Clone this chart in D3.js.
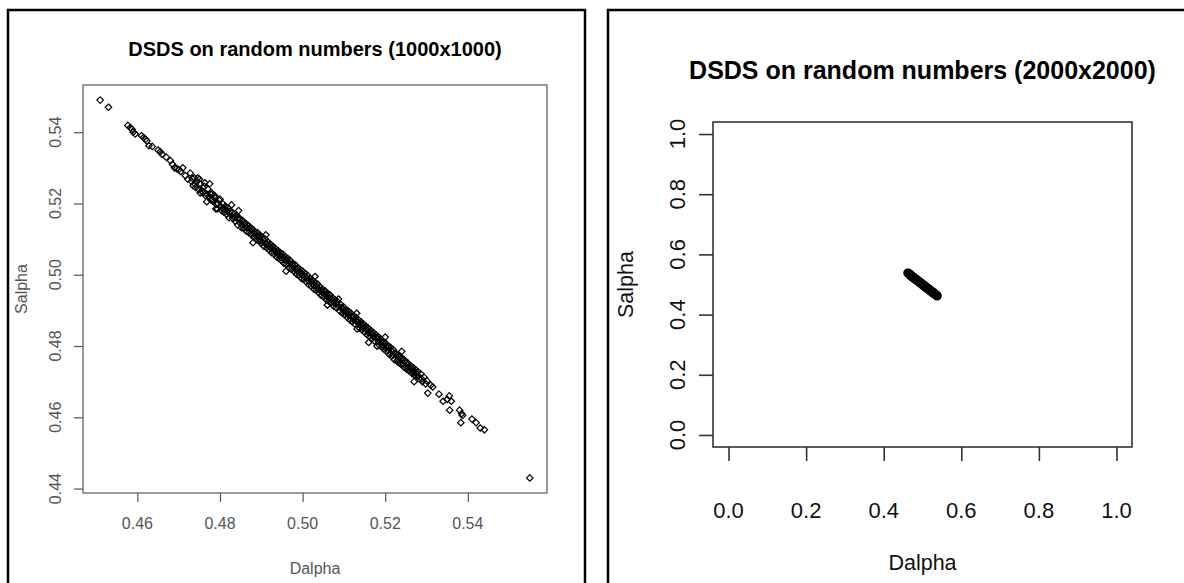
<!DOCTYPE html>
<html>
<head>
<meta charset="utf-8">
<script src="https://cdn.jsdelivr.net/npm/d3@7"></script>
<style>
  body { margin: 0; background: #fff; }
  text { font-family: "Liberation Sans", Arial, sans-serif; }
</style>
</head>
<body>
<svg id="chart"></svg>
<script>
// Left panel: DSDS on 1000x1000 random numbers
const dalpha1000 = [
  0.4510, 0.4530, 0.4577, 0.4583, 0.4587, 0.4590, 0.4595, 0.4610, 0.4615, 0.4620,
  0.4623, 0.4628, 0.4636, 0.4650, 0.4655, 0.4660, 0.4670, 0.4680, 0.4685, 0.4690,
  0.4695, 0.4700, 0.4705, 0.4710, 0.4716,
  0.4722, 0.4728, 0.4731, 0.4735, 0.4738, 0.4741, 0.4744, 0.4748, 0.4750, 0.4753,
  0.4756, 0.4759, 0.4762, 0.4765, 0.4768, 0.4771, 0.4774, 0.4778, 0.4781, 0.4784,
  0.4787, 0.4791, 0.4794, 0.4797, 0.4801, 0.4804, 0.4807, 0.4810, 0.4813, 0.4816,
  0.4819, 0.4822, 0.4825, 0.4828, 0.4831, 0.4834, 0.4837, 0.4840, 0.4843, 0.4846,
  0.4849, 0.4852, 0.4855, 0.4858, 0.4861, 0.4864, 0.4867, 0.4870, 0.4873, 0.4876,
  0.4879, 0.4882, 0.4885, 0.4888, 0.4891, 0.4894, 0.4897, 0.4900, 0.4903, 0.4906,
  0.4909, 0.4911, 0.4913, 0.4916, 0.4919, 0.4922, 0.4925, 0.4928, 0.4931, 0.4934,
  0.4937, 0.4940, 0.4943, 0.4946, 0.4949, 0.4952, 0.4955, 0.4958, 0.4961, 0.4964,
  0.4967, 0.4970, 0.4973, 0.4976, 0.4979, 0.4982, 0.4985, 0.4988, 0.4991, 0.4994,
  0.4997, 0.5000, 0.5003, 0.5006, 0.5009, 0.5012, 0.5015, 0.5018, 0.5021, 0.5024,
  0.5027, 0.5030, 0.5033, 0.5036, 0.5039, 0.5042, 0.5045, 0.5048, 0.5051, 0.5054,
  0.5057, 0.5060, 0.5063, 0.5066, 0.5069, 0.5072, 0.5075, 0.5078, 0.5081, 0.5084,
  0.5087, 0.5090, 0.5093, 0.5096, 0.5099, 0.5102, 0.5105, 0.5108, 0.5111, 0.5114,
  0.5117, 0.5120, 0.5123, 0.5126, 0.5129, 0.5131, 0.5132, 0.5135, 0.5138, 0.5141,
  0.5144, 0.5147, 0.5150, 0.5153, 0.5156, 0.5159, 0.5162, 0.5165, 0.5168, 0.5171,
  0.5174, 0.5177, 0.5180, 0.5183, 0.5186, 0.5189, 0.5192, 0.5195, 0.5198, 0.5201,
  0.5204, 0.5207, 0.5210, 0.5213, 0.5216, 0.5219, 0.5222, 0.5225, 0.5228, 0.5231,
  0.5234, 0.5237, 0.5240, 0.5243, 0.5246, 0.5249, 0.5252, 0.5255, 0.5258, 0.5261,
  0.5264, 0.5267, 0.5270, 0.5273, 0.5276, 0.5279, 0.5282, 0.5286, 0.5290, 0.5294,
  0.5298, 0.5301, 0.5303,
  0.5310, 0.5315, 0.5330, 0.5340, 0.5350, 0.5355, 0.5360, 0.5356, 0.5380, 0.5385,
  0.5383, 0.5387, 0.5410, 0.5420, 0.5430, 0.5440, 0.5550,
  // second pass through the dense core
  0.4733, 0.4739, 0.4746, 0.4752, 0.4758, 0.4763, 0.4769, 0.4776, 0.4782, 0.4789,
  0.4795, 0.4800, 0.4806, 0.4812, 0.4818, 0.4824, 0.4830, 0.4836, 0.4842, 0.4848,
  0.4853, 0.4859, 0.4865, 0.4871, 0.4877, 0.4883, 0.4889, 0.4895, 0.4899, 0.4905,
  0.4910, 0.4915, 0.4920, 0.4926, 0.4932, 0.4938, 0.4944, 0.4950, 0.4956, 0.4962,
  0.4968, 0.4974, 0.4980, 0.4986, 0.4992, 0.4998, 0.5004, 0.5010, 0.5016, 0.5022,
  0.5028, 0.5034, 0.5040, 0.5046, 0.5052, 0.5058, 0.5064, 0.5070, 0.5076, 0.5082,
  0.5088, 0.5094, 0.5100, 0.5106, 0.5112, 0.5118, 0.5124, 0.5130, 0.5136, 0.5142,
  0.5148, 0.5154, 0.5160, 0.5166, 0.5172, 0.5178, 0.5184, 0.5190, 0.5196, 0.5202,
  0.5208, 0.5214, 0.5220, 0.5226, 0.5232, 0.5238, 0.5244, 0.5250, 0.5256, 0.5262,
  0.5268, 0.5274, 0.5280, 0.5288,
  0.4845, 0.4880, 0.4960, 0.5030, 0.5060, 0.5200, 0.5160, 0.4790, 0.4775, 0.5240,
  0.5270
];
const salpha1000 = [
  0.5490, 0.5470, 0.5419, 0.5413, 0.5408, 0.5400, 0.5395, 0.5390, 0.5385, 0.5380,
  0.5375, 0.5362, 0.5360, 0.5350, 0.5345, 0.5338, 0.5330, 0.5320, 0.5310, 0.5300,
  0.5298, 0.5295, 0.5290, 0.5300, 0.5278,
  0.5268, 0.5285, 0.5262, 0.5250, 0.5272, 0.5245, 0.5262, 0.5240, 0.5268, 0.5255,
  0.5236, 0.5230, 0.5248, 0.5222, 0.5205, 0.5240, 0.5220, 0.5210, 0.5228, 0.5205,
  0.5222, 0.5198, 0.5185, 0.5210, 0.5192, 0.5180, 0.5199, 0.5175, 0.5192, 0.5170,
  0.5188, 0.5160, 0.5178, 0.5196, 0.5158, 0.5170, 0.5150, 0.5165, 0.5140, 0.5160,
  0.5145, 0.5132, 0.5152, 0.5130, 0.5145, 0.5122, 0.5140, 0.5118, 0.5133, 0.5112,
  0.5128, 0.5105, 0.5120, 0.5100, 0.5118, 0.5095, 0.5110, 0.5088, 0.5105, 0.5080,
  0.5100, 0.5112, 0.5075, 0.5092, 0.5070, 0.5086, 0.5062, 0.5080, 0.5058, 0.5073,
  0.5050, 0.5068, 0.5045, 0.5062, 0.5040, 0.5058, 0.5032, 0.5050, 0.5028, 0.5046,
  0.5020, 0.5040, 0.5015, 0.5032, 0.5010, 0.5028, 0.5002, 0.5020, 0.4998, 0.5015,
  0.4990, 0.5010, 0.4986, 0.5004, 0.4980, 0.4998, 0.4972, 0.4990, 0.4968, 0.4985,
  0.4960, 0.4978, 0.4956, 0.4974, 0.4950, 0.4966, 0.4942, 0.4960, 0.4938, 0.4955,
  0.4930, 0.4948, 0.4926, 0.4944, 0.4920, 0.4936, 0.4912, 0.4930, 0.4908, 0.4925,
  0.4932, 0.4898, 0.4916, 0.4892, 0.4910, 0.4887, 0.4902, 0.4880, 0.4898, 0.4874,
  0.4892, 0.4868, 0.4885, 0.4862, 0.4880, 0.4892, 0.4848, 0.4874, 0.4850, 0.4868,
  0.4845, 0.4862, 0.4838, 0.4856, 0.4832, 0.4850, 0.4826, 0.4844, 0.4820, 0.4838,
  0.4814, 0.4832, 0.4800, 0.4826, 0.4802, 0.4820, 0.4796, 0.4812, 0.4790, 0.4808,
  0.4785, 0.4800, 0.4776, 0.4796, 0.4772, 0.4790, 0.4762, 0.4780, 0.4758, 0.4775,
  0.4752, 0.4770, 0.4748, 0.4764, 0.4740, 0.4758, 0.4735, 0.4752, 0.4730, 0.4745,
  0.4724, 0.4740, 0.4718, 0.4734, 0.4715, 0.4728, 0.4708, 0.4722, 0.4700, 0.4712,
  0.4694, 0.4702, 0.4668,
  0.4690, 0.4685, 0.4665, 0.4645, 0.4650, 0.4660, 0.4645, 0.4620, 0.4620, 0.4610,
  0.4585, 0.4605, 0.4595, 0.4585, 0.4570, 0.4565, 0.4430,
  // second pass through the dense core
  0.5270, 0.5255, 0.5272, 0.5230, 0.5245, 0.5258, 0.5225, 0.5228, 0.5210, 0.5215,
  0.5200, 0.5212, 0.5186, 0.5185, 0.5180, 0.5170, 0.5175, 0.5160, 0.5158, 0.5155,
  0.5140, 0.5143, 0.5132, 0.5131, 0.5118, 0.5120, 0.5108, 0.5107, 0.5095, 0.5097,
  0.5088, 0.5086, 0.5078, 0.5075, 0.5066, 0.5063, 0.5054, 0.5052, 0.5042, 0.5040,
  0.5030, 0.5028, 0.5018, 0.5016, 0.5006, 0.5004, 0.4994, 0.4992, 0.4982, 0.4980,
  0.4970, 0.4968, 0.4958, 0.4956, 0.4946, 0.4944, 0.4934, 0.4932, 0.4922, 0.4920,
  0.4910, 0.4908, 0.4898, 0.4896, 0.4886, 0.4884, 0.4874, 0.4872, 0.4862, 0.4860,
  0.4850, 0.4848, 0.4838, 0.4836, 0.4826, 0.4824, 0.4812, 0.4812, 0.4800, 0.4800,
  0.4788, 0.4788, 0.4775, 0.4776, 0.4762, 0.4764, 0.4750, 0.4752, 0.4740, 0.4738,
  0.4728, 0.4726, 0.4716, 0.4708,
  0.5180, 0.5090, 0.5010, 0.4995, 0.4915, 0.4825, 0.4810, 0.5185, 0.5255, 0.4785,
  0.4700
];

// Right panel: DSDS on 2000x2000 random numbers
const dalpha2000 = [
  0.4622, 0.4640, 0.4652, 0.4668, 0.4675, 0.4690, 0.4702, 0.4718, 0.4725, 0.4741,
  0.4750, 0.4766, 0.4772, 0.4790, 0.4801, 0.4815, 0.4822, 0.4840, 0.4851, 0.4866,
  0.4874, 0.4890, 0.4903, 0.4915, 0.4927, 0.4942, 0.4950, 0.4966, 0.4978, 0.4990,
  0.5004, 0.5018, 0.5025, 0.5041, 0.5052, 0.5066, 0.5075, 0.5090, 0.5101, 0.5116,
  0.5124, 0.5140, 0.5150, 0.5166, 0.5175, 0.5190, 0.5202, 0.5215, 0.5226, 0.5241,
  0.5250, 0.5266, 0.5276, 0.5290, 0.5300, 0.5315, 0.5324, 0.5338, 0.5352, 0.5366,
  0.5378
];
const salpha2000 = [
  0.5380, 0.5368, 0.5358, 0.5345, 0.5318, 0.5312, 0.5290, 0.5285, 0.5268, 0.5262,
  0.5245, 0.5238, 0.5220, 0.5214, 0.5195, 0.5190, 0.5172, 0.5166, 0.5146, 0.5142,
  0.5122, 0.5118, 0.5095, 0.5092, 0.5070, 0.5066, 0.5046, 0.5041, 0.5020, 0.5016,
  0.4995, 0.4990, 0.4970, 0.4966, 0.4944, 0.4940, 0.4920, 0.4915, 0.4894, 0.4890,
  0.4870, 0.4866, 0.4846, 0.4840, 0.4820, 0.4816, 0.4795, 0.4790, 0.4770, 0.4766,
  0.4746, 0.4742, 0.4720, 0.4716, 0.4696, 0.4690, 0.4672, 0.4665, 0.4648, 0.4636,
  0.4622
];

const ticks1000X = [0.46, 0.48, 0.50, 0.52, 0.54];
const ticks1000Y = [0.44, 0.46, 0.48, 0.50, 0.52, 0.54];
const ticks2000 = [0.0, 0.2, 0.4, 0.6, 0.8, 1.0];

const svg = d3.select('#chart')
    .attr('width', 1184)
    .attr('height', 583);

svg.append('rect')
    .attr('width', 1184)
    .attr('height', 583)
    .attr('fill', '#fff');

// R style: pad the data range by 4% on each side
function rRange(ext) {
    const pad = (ext[1] - ext[0]) * 0.04;
    return [ext[0] - pad, ext[1] + pad];
}

class ScatterPanel {

    constructor(_config, _data) {
        this.config = _config;
        this.data = _data;
        this.initVis();
    }

    initVis() {
        let vis = this;
        const c = vis.config;

        // outer frame of the panel
        svg.append('rect')
            .attr('x', c.frame.x)
            .attr('y', c.frame.y)
            .attr('width', c.frame.w)
            .attr('height', c.frame.h)
            .attr('fill', 'none')
            .attr('stroke', '#000')
            .attr('stroke-width', 2.5);

        vis.xScale = d3.scaleLinear()
            .domain(rRange(c.xlim))
            .range([c.plot.left, c.plot.right]);

        vis.yScale = d3.scaleLinear()
            .domain(rRange(c.ylim))
            .range([c.plot.bottom, c.plot.top]);

        vis.g = svg.append('g');

        vis.renderVis();
    }

    renderVis() {
        let vis = this;
        const c = vis.config;

        const xAxis = d3.axisBottom(vis.xScale)
            .tickValues(c.xTicks)
            .tickSize(c.tickLen)
            .tickSizeOuter(0)
            .tickFormat(d3.format(c.fmt));

        const yAxis = d3.axisLeft(vis.yScale)
            .tickValues(c.yTicks)
            .tickSize(c.tickLen)
            .tickSizeOuter(0)
            .tickFormat(d3.format(c.fmt));

        const gx = vis.g.append('g')
            .attr('transform', `translate(0,${c.plot.bottom})`)
            .call(xAxis);
        gx.select('.domain').remove();
        gx.selectAll('line').attr('stroke', c.lineColor).attr('stroke-width', c.lineWidth);
        gx.selectAll('text').remove();

        const gy = vis.g.append('g')
            .attr('transform', `translate(${c.plot.left},0)`)
            .call(yAxis);
        gy.select('.domain').remove();
        gy.selectAll('line').attr('stroke', c.lineColor).attr('stroke-width', c.lineWidth);
        gy.selectAll('text').remove();

        // tick labels, placed by hand like R's mtext lines
        vis.g.selectAll('.xlab')
            .data(c.xTicks)
            .join('text')
                .attr('class', 'xlab')
                .attr('x', d => vis.xScale(d))
                .attr('y', c.xLabY)
                .attr('dy', '0.35em')
                .attr('text-anchor', 'middle')
                .attr('font-size', c.tickFont)
                .attr('fill', c.textColor)
                .text(d3.format(c.fmt));

        vis.g.selectAll('.ylab')
            .data(c.yTicks)
            .join('text')
                .attr('class', 'ylab')
                .attr('transform', d => `translate(${c.yLabX},${vis.yScale(d)}) rotate(-90)`)
                .attr('dy', '0.35em')
                .attr('text-anchor', 'middle')
                .attr('font-size', c.tickFont)
                .attr('fill', c.textColor)
                .text(d3.format(c.fmt));

        // plot box
        vis.g.append('rect')
            .attr('x', c.plot.left)
            .attr('y', c.plot.top)
            .attr('width', c.plot.right - c.plot.left)
            .attr('height', c.plot.bottom - c.plot.top)
            .attr('fill', 'none')
            .attr('stroke', c.lineColor)
            .attr('stroke-width', c.lineWidth);

        // points
        const marks = vis.g.append('g');
        if (c.marker === 'diamond') {
            const sym = d3.symbol().type(d3.symbolDiamond2).size(c.markerSize);
            marks.selectAll('path')
                .data(vis.data)
                .join('path')
                    .attr('transform', d => `translate(${vis.xScale(d.x)},${vis.yScale(d.y)})`)
                    .attr('d', sym)
                    .attr('fill', 'none')
                    .attr('stroke', '#000')
                    .attr('stroke-width', 1.2);
        } else {
            marks.selectAll('circle')
                .data(vis.data)
                .join('circle')
                    .attr('cx', d => vis.xScale(d.x))
                    .attr('cy', d => vis.yScale(d.y))
                    .attr('r', c.markerSize)
                    .attr('fill', 'none')
                    .attr('stroke', '#000')
                    .attr('stroke-width', 1.6);
        }

        // titles
        const midX = (c.plot.left + c.plot.right) / 2;
        const midY = (c.plot.top + c.plot.bottom) / 2;

        vis.g.append('text')
            .attr('x', midX)
            .attr('y', c.titleY)
            .attr('dy', '0.35em')
            .attr('text-anchor', 'middle')
            .attr('font-size', c.titleFont)
            .attr('font-weight', 'bold')
            .attr('fill', '#000')
            .text(c.title);

        vis.g.append('text')
            .attr('x', midX)
            .attr('y', c.xTitleY)
            .attr('dy', '0.35em')
            .attr('text-anchor', 'middle')
            .attr('font-size', c.labelFont)
            .attr('fill', c.textColor)
            .text('Dalpha');

        vis.g.append('text')
            .attr('transform', `translate(${c.yTitleX},${midY}) rotate(-90)`)
            .attr('dy', '0.35em')
            .attr('text-anchor', 'middle')
            .attr('font-size', c.labelFont)
            .attr('fill', c.textColor)
            .text('Salpha');
    }
}

const data1000 = dalpha1000.map((d, i) => ({ x: d, y: salpha1000[i] }));
const data2000 = dalpha2000.map((d, i) => ({ x: d, y: salpha2000[i] }));

new ScatterPanel({
    frame: { x: 8, y: 10, w: 577, h: 600 },
    plot: { left: 83, right: 547, top: 85, bottom: 493 },
    xlim: d3.extent(dalpha1000),
    ylim: d3.extent(salpha1000),
    xTicks: ticks1000X,
    yTicks: ticks1000Y,
    fmt: '.2f',
    tickLen: 9,
    lineColor: '#555',
    lineWidth: 1.2,
    textColor: '#555',
    tickFont: '16px',
    labelFont: '16px',
    titleFont: '20px',
    xLabY: 523,
    yLabX: 55,
    titleY: 49,
    xTitleY: 568,
    yTitleX: 21,
    title: 'DSDS on random numbers (1000x1000)',
    marker: 'diamond',
    markerSize: 27
}, data1000);

new ScatterPanel({
    frame: { x: 608, y: 10, w: 600, h: 600 },
    plot: { left: 713, right: 1132, top: 122, bottom: 447 },
    xlim: [0, 1],
    ylim: [0, 1],
    xTicks: ticks2000,
    yTicks: ticks2000,
    fmt: '.1f',
    tickLen: 14,
    lineColor: '#333',
    lineWidth: 1.6,
    textColor: '#111',
    tickFont: '22px',
    labelFont: '21.5px',
    titleFont: '25px',
    xLabY: 510,
    yLabX: 677,
    titleY: 70,
    xTitleY: 562,
    yTitleX: 625,
    title: 'DSDS on random numbers (2000x2000)',
    marker: 'circle',
    markerSize: 3.8
}, data2000);
</script>
</body>
</html>
